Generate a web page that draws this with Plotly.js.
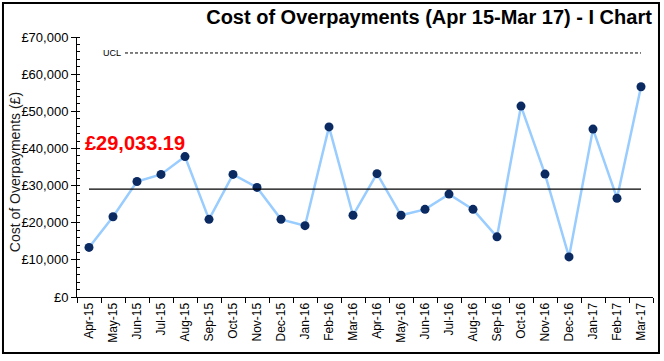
<!DOCTYPE html>
<html>
<head>
<meta charset="utf-8">
<script src="https://cdn.plot.ly/plotly-3.0.1.min.js"></script>
<style>html,body{margin:0;padding:0;background:#fff;}#chart{width:664px;height:361px;}</style>
</head>
<body>
<div id="chart"></div>
<script>
const months = ["Apr-15","May-15","Jun-15","Jul-15","Aug-15","Sep-15","Oct-15","Nov-15","Dec-15","Jan-16","Feb-16","Mar-16",
                "Apr-16","May-16","Jun-16","Jul-16","Aug-16","Sep-16","Oct-16","Nov-16","Dec-16","Jan-17","Feb-17","Mar-17"];
const costs = [13350,21600,31100,33000,37800,20900,33000,29500,20900,19200,45800,22000,
               33200,22000,23600,27700,23600,16200,51400,33100,10800,45200,26600,56600];
const meanValue = 29033.19;
const uclValue = 65700;
const yTickVals = [0,10000,20000,30000,40000,50000,60000,70000];
const yTickText = ["£0","£10,000","£20,000","£30,000","£40,000","£50,000","£60,000","£70,000"];

const FONT = "Liberation Sans, Arial, sans-serif";

const traces = [
  {
    x: months, y: costs,
    type: "scatter", mode: "lines+markers",
    line: {color: "#99CCFF", width: 2.5},
    marker: {color: "#0B2A62", size: 9},
    showlegend: false
  },
  {
    x: [months[0], months[months.length-1]],
    y: [meanValue, meanValue],
    type: "scatter", mode: "lines",
    line: {color: "#000000", width: 1.3},
    hoverinfo: "skip", showlegend: false
  }
];

const meanText = "£" + meanValue.toLocaleString("en-GB", {minimumFractionDigits: 2, maximumFractionDigits: 2});

const layout = {
  width: 664, height: 361,
  margin: {l: 77, r: 11, t: 37, b: 64},
  paper_bgcolor: "#ffffff", plot_bgcolor: "#ffffff",
  font: {family: FONT, color: "#000000"},
  showlegend: false,
  title: {
    text: "Cost of Overpayments (Apr 15-Mar 17) - I Chart",
    font: {family: FONT, size: 20, color: "#000000", weight: "bold"},
    xref: "paper", x: 0.998, xanchor: "right",
    yref: "container", y: 0.953, yanchor: "middle"
  },
  xaxis: {
    type: "category",
    categoryorder: "array", categoryarray: months,
    range: [-0.5, months.length - 0.5],
    showline: true, linecolor: "#000000", linewidth: 1,
    ticks: "outside", tickson: "boundaries", ticklen: 5, tickcolor: "#000000",
    tickangle: -90, tickfont: {family: FONT, size: 12, color: "#000000"},
    showgrid: false, zeroline: false, fixedrange: true
  },
  yaxis: {
    range: [0, 70000],
    tickmode: "array", tickvals: yTickVals, ticktext: yTickText,
    showline: true, linecolor: "#000000", linewidth: 1,
    ticks: "outside", ticklen: 5, tickcolor: "#000000",
    minor: {dtick: 2000, ticks: "inside", ticklen: 3, tickcolor: "#000000", showgrid: false},
    tickfont: {family: FONT, size: 13, color: "#000000"},
    showgrid: false, zeroline: false, fixedrange: true
  },
  shapes: [
    {type: "line", xref: "x", yref: "y", x0: 1.5, x1: months.length - 1, y0: uclValue, y1: uclValue,
     line: {color: "#000000", width: 1, dash: "3px,2px"}},
    {type: "rect", xref: "paper", yref: "paper", x0: -0.1285, x1: 1.0104, y0: -0.2154, y1: 1.1308,
     line: {color: "#000000", width: 2}, fillcolor: "rgba(0,0,0,0)"}
  ],
  annotations: [
    {text: "UCL", xref: "x", yref: "y", x: 1.4, y: uclValue, xanchor: "right", yanchor: "middle",
     showarrow: false, font: {family: FONT, size: 9, color: "#000000"}},
    {text: meanText, xref: "paper", yref: "paper", x: 0.0104, y: 0.592, xanchor: "left", yanchor: "middle",
     showarrow: false, font: {family: FONT, size: 20, color: "#FF0000", weight: "bold"}},
    {text: "Cost of Overpayments (£)", xref: "paper", yref: "paper", x: -0.1076, y: 0.48,
     xanchor: "center", yanchor: "middle", textangle: -90, showarrow: false,
     font: {family: FONT, size: 14, color: "#1a1a1a"}}
  ]
};

Plotly.newPlot("chart", traces, layout, {displayModeBar: false, staticPlot: true});
</script>
</body>
</html>
